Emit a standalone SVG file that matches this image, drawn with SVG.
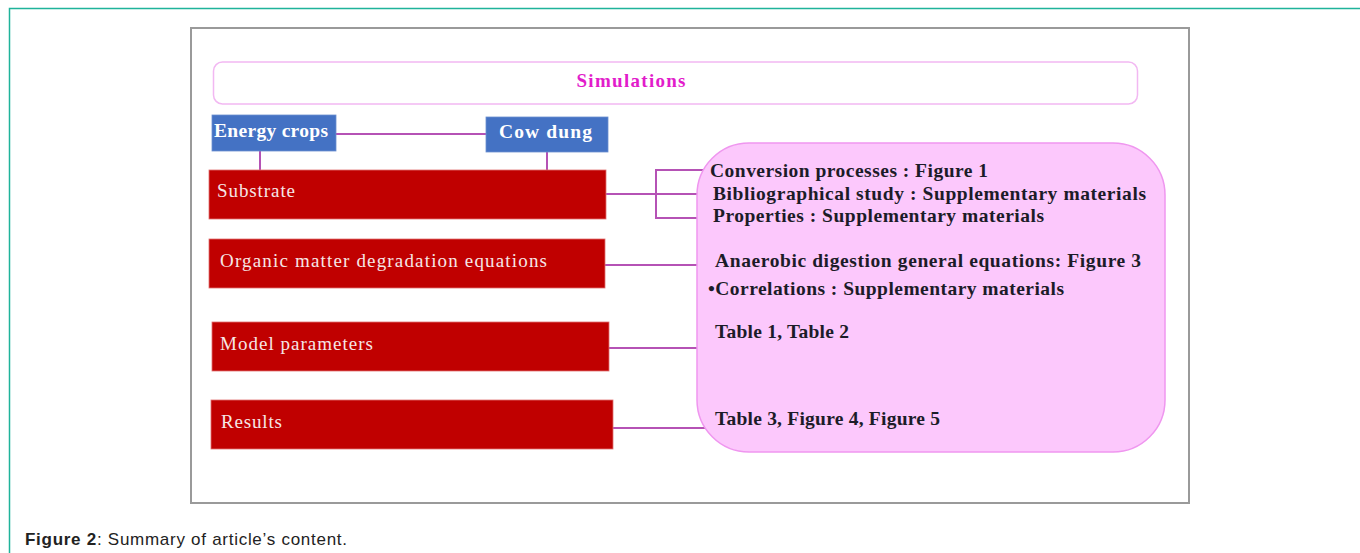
<svg xmlns="http://www.w3.org/2000/svg" width="1360" height="553" viewBox="0 0 1360 553">
<style>
.red{fill:#c00000;stroke:#e07070;stroke-width:0.8}
.blue{fill:#4472c4;stroke:#6b8fd0;stroke-width:0.8}
.rt{font-family:"Liberation Serif",serif;font-size:19px;fill:#f6e6e6}
.bt{font-family:"Liberation Serif",serif;font-size:19.5px;font-weight:bold;fill:#ffffff}
.pt{font-family:"Liberation Serif",serif;font-size:19.5px;font-weight:bold;fill:#1c1c28}
.con{fill:none;stroke:#b552b5;stroke-width:2}
.cap{font-family:"Liberation Sans",Arial,sans-serif;font-size:17px;fill:#222}
</style>
<rect width="1360" height="553" fill="#ffffff"/>
<path d="M9.5 553 V8.5 H1360" fill="none" stroke="#1fb39a" stroke-width="1.5"/>
<rect x="191" y="28" width="998" height="475" fill="#ffffff" stroke="#9a9a9a" stroke-width="2"/>

<g id="connectors">
<path class="con" d="M336 134 H486"/>
<path class="con" d="M260 151 V170"/>
<path class="con" d="M547 152 V170"/>
<path class="con" d="M606 194 H698"/>
<path class="con" d="M703 170 H656 V218 H698"/>
<path class="con" d="M605 265 H713"/>
<path class="con" d="M609 348 H698"/>
<path class="con" d="M613 428 H708"/>
</g>

<g id="simulations">
<rect x="213.5" y="62" width="924" height="42" rx="9" fill="#ffffff" stroke="#f2b8f2" stroke-width="1.5"/>
<text x="631" y="87" text-anchor="middle" font-family="'Liberation Serif',serif" font-size="19" font-weight="bold" fill="#e21ccb" textLength="109" lengthAdjust="spacing">Simulations</text>
</g>

<g id="energy-crops">
<rect class="blue" x="212" y="115" width="124" height="36"/>
<text class="bt" x="214" y="137" textLength="114" lengthAdjust="spacing">Energy crops</text>
</g>

<g id="cow-dung">
<rect class="blue" x="486" y="117" width="122" height="35"/>
<text class="bt" x="499" y="138" textLength="93" lengthAdjust="spacing">Cow dung</text>
</g>

<g id="substrate">
<rect class="red" x="209" y="170" width="397" height="49"/>
<text class="rt" x="217" y="197" textLength="78" lengthAdjust="spacing">Substrate</text>
</g>

<g id="organic">
<rect class="red" x="209" y="239" width="396" height="49"/>
<text class="rt" x="220" y="267" textLength="327" lengthAdjust="spacing">Organic matter degradation equations</text>
</g>

<g id="model-parameters">
<rect class="red" x="212" y="322" width="397" height="49"/>
<text class="rt" x="220" y="350" textLength="153" lengthAdjust="spacing">Model parameters</text>
</g>

<g id="results">
<rect class="red" x="211" y="400" width="402" height="49"/>
<text class="rt" x="221" y="428" textLength="61" lengthAdjust="spacing">Results</text>
</g>

<g id="details">
<rect x="697" y="143" width="468" height="309" rx="52" fill="#fcc8fc" stroke="#ef96ef" stroke-width="1.5"/>
<text class="pt" x="710" y="177" textLength="278" lengthAdjust="spacing">Conversion processes : Figure 1</text>
<text class="pt" x="713" y="200" textLength="433" lengthAdjust="spacing">Bibliographical study : Supplementary materials</text>
<text class="pt" x="713" y="222" textLength="331" lengthAdjust="spacing">Properties : Supplementary materials</text>
<text class="pt" x="715" y="267" textLength="426" lengthAdjust="spacing">Anaerobic digestion general equations: Figure 3</text>
<text class="pt" x="708" y="295" textLength="356" lengthAdjust="spacing">•Correlations : Supplementary materials</text>
<text class="pt" x="715" y="338" textLength="134" lengthAdjust="spacing">Table 1, Table 2</text>
<text class="pt" x="715" y="425" textLength="225" lengthAdjust="spacing">Table 3, Figure 4, Figure 5</text>
</g>

<text class="cap" x="25" y="545" textLength="322" lengthAdjust="spacing"><tspan font-weight="bold">Figure 2</tspan>: Summary of article’s content.</text>
</svg>
